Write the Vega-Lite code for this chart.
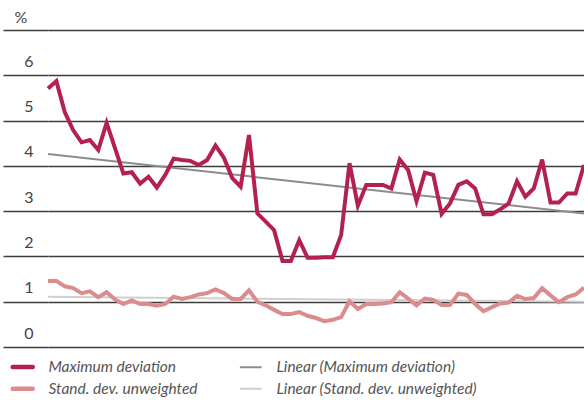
{
  "$schema": "https://vega.github.io/schema/vega-lite/v6.json",
  "autosize": "none",
  "width": 536,
  "height": 317,
  "padding": {"left": 48, "top": 30, "right": 0, "bottom": 53},
  "background": "white",
  "config": {
    "view": {"stroke": null},
    "font": "Lato",
    "legend": {
      "orient": "none",
      "legendX": -33,
      "legendY": 329,
      "columns": 2,
      "symbolType": "stroke",
      "symbolSize": 400,
      "labelFont": "Lato",
      "labelFontStyle": "italic",
      "labelFontSize": 15.5,
      "labelColor": "#555555",
      "labelOffset": 18,
      "rowPadding": 3,
      "columnPadding": 38,
      "labelLimit": 300
    }
  },
  "layer": [
    {
      "data": {"values": [
        {"series": "Linear (Maximum deviation)", "i": 0, "v": 4.26},
        {"series": "Linear (Maximum deviation)", "i": 64, "v": 2.95},
        {"series": "Linear (Stand. dev. unweighted)", "i": 0, "v": 1.11},
        {"series": "Linear (Stand. dev. unweighted)", "i": 64, "v": 1.0}
      ]},
      "mark": {"type": "line", "strokeWidth": 2},
      "encoding": {
        "x": {"field": "i", "type": "quantitative", "axis": null, "scale": {"domain": [0, 64], "nice": false, "zero": false}},
        "y": {"field": "v", "type": "quantitative"},
        "color": {"field": "series", "type": "nominal"}
      }
    },
    {
      "data": {"values": [
        {"series": "Maximum deviation", "i": 0, "v": 5.71},
        {"series": "Maximum deviation", "i": 1, "v": 5.87},
        {"series": "Maximum deviation", "i": 2, "v": 5.19},
        {"series": "Maximum deviation", "i": 3, "v": 4.79},
        {"series": "Maximum deviation", "i": 4, "v": 4.52},
        {"series": "Maximum deviation", "i": 5, "v": 4.57},
        {"series": "Maximum deviation", "i": 6, "v": 4.35},
        {"series": "Maximum deviation", "i": 7, "v": 4.95},
        {"series": "Maximum deviation", "i": 8, "v": 4.39},
        {"series": "Maximum deviation", "i": 9, "v": 3.83},
        {"series": "Maximum deviation", "i": 10, "v": 3.86},
        {"series": "Maximum deviation", "i": 11, "v": 3.61},
        {"series": "Maximum deviation", "i": 12, "v": 3.76},
        {"series": "Maximum deviation", "i": 13, "v": 3.52},
        {"series": "Maximum deviation", "i": 14, "v": 3.8},
        {"series": "Maximum deviation", "i": 15, "v": 4.16},
        {"series": "Maximum deviation", "i": 16, "v": 4.13},
        {"series": "Maximum deviation", "i": 17, "v": 4.11},
        {"series": "Maximum deviation", "i": 18, "v": 4.02},
        {"series": "Maximum deviation", "i": 19, "v": 4.13},
        {"series": "Maximum deviation", "i": 20, "v": 4.45},
        {"series": "Maximum deviation", "i": 21, "v": 4.18},
        {"series": "Maximum deviation", "i": 22, "v": 3.73},
        {"series": "Maximum deviation", "i": 23, "v": 3.54},
        {"series": "Maximum deviation", "i": 24, "v": 4.68},
        {"series": "Maximum deviation", "i": 25, "v": 2.95},
        {"series": "Maximum deviation", "i": 26, "v": 2.77},
        {"series": "Maximum deviation", "i": 27, "v": 2.58},
        {"series": "Maximum deviation", "i": 28, "v": 1.9},
        {"series": "Maximum deviation", "i": 29, "v": 1.9},
        {"series": "Maximum deviation", "i": 30, "v": 2.36},
        {"series": "Maximum deviation", "i": 31, "v": 1.97},
        {"series": "Maximum deviation", "i": 32, "v": 1.97},
        {"series": "Maximum deviation", "i": 33, "v": 1.98},
        {"series": "Maximum deviation", "i": 34, "v": 1.98},
        {"series": "Maximum deviation", "i": 35, "v": 2.47},
        {"series": "Maximum deviation", "i": 36, "v": 4.06},
        {"series": "Maximum deviation", "i": 37, "v": 3.12},
        {"series": "Maximum deviation", "i": 38, "v": 3.58},
        {"series": "Maximum deviation", "i": 39, "v": 3.58},
        {"series": "Maximum deviation", "i": 40, "v": 3.58},
        {"series": "Maximum deviation", "i": 41, "v": 3.5},
        {"series": "Maximum deviation", "i": 42, "v": 4.14},
        {"series": "Maximum deviation", "i": 43, "v": 3.91},
        {"series": "Maximum deviation", "i": 44, "v": 3.22},
        {"series": "Maximum deviation", "i": 45, "v": 3.85},
        {"series": "Maximum deviation", "i": 46, "v": 3.8},
        {"series": "Maximum deviation", "i": 47, "v": 2.94},
        {"series": "Maximum deviation", "i": 48, "v": 3.17},
        {"series": "Maximum deviation", "i": 49, "v": 3.58},
        {"series": "Maximum deviation", "i": 50, "v": 3.66},
        {"series": "Maximum deviation", "i": 51, "v": 3.5},
        {"series": "Maximum deviation", "i": 52, "v": 2.93},
        {"series": "Maximum deviation", "i": 53, "v": 2.93},
        {"series": "Maximum deviation", "i": 54, "v": 3.04},
        {"series": "Maximum deviation", "i": 55, "v": 3.17},
        {"series": "Maximum deviation", "i": 56, "v": 3.66},
        {"series": "Maximum deviation", "i": 57, "v": 3.32},
        {"series": "Maximum deviation", "i": 58, "v": 3.5},
        {"series": "Maximum deviation", "i": 59, "v": 4.14},
        {"series": "Maximum deviation", "i": 60, "v": 3.19},
        {"series": "Maximum deviation", "i": 61, "v": 3.19},
        {"series": "Maximum deviation", "i": 62, "v": 3.39},
        {"series": "Maximum deviation", "i": 63, "v": 3.39},
        {"series": "Maximum deviation", "i": 64, "v": 4.02},
        {"series": "Stand. dev. unweighted", "i": 0, "v": 1.46},
        {"series": "Stand. dev. unweighted", "i": 1, "v": 1.46},
        {"series": "Stand. dev. unweighted", "i": 2, "v": 1.34},
        {"series": "Stand. dev. unweighted", "i": 3, "v": 1.3},
        {"series": "Stand. dev. unweighted", "i": 4, "v": 1.19},
        {"series": "Stand. dev. unweighted", "i": 5, "v": 1.23},
        {"series": "Stand. dev. unweighted", "i": 6, "v": 1.1},
        {"series": "Stand. dev. unweighted", "i": 7, "v": 1.21},
        {"series": "Stand. dev. unweighted", "i": 8, "v": 1.05},
        {"series": "Stand. dev. unweighted", "i": 9, "v": 0.95},
        {"series": "Stand. dev. unweighted", "i": 10, "v": 1.03},
        {"series": "Stand. dev. unweighted", "i": 11, "v": 0.95},
        {"series": "Stand. dev. unweighted", "i": 12, "v": 0.95},
        {"series": "Stand. dev. unweighted", "i": 13, "v": 0.91},
        {"series": "Stand. dev. unweighted", "i": 14, "v": 0.95},
        {"series": "Stand. dev. unweighted", "i": 15, "v": 1.11},
        {"series": "Stand. dev. unweighted", "i": 16, "v": 1.06},
        {"series": "Stand. dev. unweighted", "i": 17, "v": 1.1},
        {"series": "Stand. dev. unweighted", "i": 18, "v": 1.16},
        {"series": "Stand. dev. unweighted", "i": 19, "v": 1.19},
        {"series": "Stand. dev. unweighted", "i": 20, "v": 1.27},
        {"series": "Stand. dev. unweighted", "i": 21, "v": 1.19},
        {"series": "Stand. dev. unweighted", "i": 22, "v": 1.06},
        {"series": "Stand. dev. unweighted", "i": 23, "v": 1.06},
        {"series": "Stand. dev. unweighted", "i": 24, "v": 1.25},
        {"series": "Stand. dev. unweighted", "i": 25, "v": 1.0},
        {"series": "Stand. dev. unweighted", "i": 26, "v": 0.92},
        {"series": "Stand. dev. unweighted", "i": 27, "v": 0.82},
        {"series": "Stand. dev. unweighted", "i": 28, "v": 0.73},
        {"series": "Stand. dev. unweighted", "i": 29, "v": 0.73},
        {"series": "Stand. dev. unweighted", "i": 30, "v": 0.77},
        {"series": "Stand. dev. unweighted", "i": 31, "v": 0.69},
        {"series": "Stand. dev. unweighted", "i": 32, "v": 0.64},
        {"series": "Stand. dev. unweighted", "i": 33, "v": 0.57},
        {"series": "Stand. dev. unweighted", "i": 34, "v": 0.6},
        {"series": "Stand. dev. unweighted", "i": 35, "v": 0.66},
        {"series": "Stand. dev. unweighted", "i": 36, "v": 1.01},
        {"series": "Stand. dev. unweighted", "i": 37, "v": 0.84},
        {"series": "Stand. dev. unweighted", "i": 38, "v": 0.95},
        {"series": "Stand. dev. unweighted", "i": 39, "v": 0.95},
        {"series": "Stand. dev. unweighted", "i": 40, "v": 0.96},
        {"series": "Stand. dev. unweighted", "i": 41, "v": 0.99},
        {"series": "Stand. dev. unweighted", "i": 42, "v": 1.21},
        {"series": "Stand. dev. unweighted", "i": 43, "v": 1.07},
        {"series": "Stand. dev. unweighted", "i": 44, "v": 0.92},
        {"series": "Stand. dev. unweighted", "i": 45, "v": 1.07},
        {"series": "Stand. dev. unweighted", "i": 46, "v": 1.04},
        {"series": "Stand. dev. unweighted", "i": 47, "v": 0.93},
        {"series": "Stand. dev. unweighted", "i": 48, "v": 0.93},
        {"series": "Stand. dev. unweighted", "i": 49, "v": 1.18},
        {"series": "Stand. dev. unweighted", "i": 50, "v": 1.15},
        {"series": "Stand. dev. unweighted", "i": 51, "v": 0.95},
        {"series": "Stand. dev. unweighted", "i": 52, "v": 0.79},
        {"series": "Stand. dev. unweighted", "i": 53, "v": 0.88},
        {"series": "Stand. dev. unweighted", "i": 54, "v": 0.96},
        {"series": "Stand. dev. unweighted", "i": 55, "v": 0.98},
        {"series": "Stand. dev. unweighted", "i": 56, "v": 1.13},
        {"series": "Stand. dev. unweighted", "i": 57, "v": 1.06},
        {"series": "Stand. dev. unweighted", "i": 58, "v": 1.08},
        {"series": "Stand. dev. unweighted", "i": 59, "v": 1.3},
        {"series": "Stand. dev. unweighted", "i": 60, "v": 1.14},
        {"series": "Stand. dev. unweighted", "i": 61, "v": 0.99},
        {"series": "Stand. dev. unweighted", "i": 62, "v": 1.1},
        {"series": "Stand. dev. unweighted", "i": 63, "v": 1.16},
        {"series": "Stand. dev. unweighted", "i": 64, "v": 1.31}
      ]},
      "mark": {"type": "line", "strokeWidth": 4},
      "encoding": {
        "x": {"field": "i", "type": "quantitative", "axis": null, "scale": {"domain": [0, 64], "nice": false, "zero": false}},
        "y": {
          "field": "v", "type": "quantitative",
          "scale": {"domain": [0, 7], "nice": false, "zero": true},
          "axis": {
            "values": [0, 0.5, 1, 1.5, 2, 2.5, 3, 3.5, 4, 4.5, 5, 5.5, 6, 6.5, 7],
            "domain": false,
            "grid": true,
            "gridColor": "#3c3c3c",
            "gridWidth": 1.3,
            "gridOpacity": 1,
            "ticks": true,
            "tickSize": 45,
            "tickWidth": 1.3,
            "tickColor": "#3c3c3c",
            "tickOpacity": {"condition": {"test": "datum.value % 1 === 0", "value": 1}, "value": 0},
            "labelExpr": "datum.value % 1 === 0 && datum.value < 7 ? datum.label : ''",
            "labelFont": "Lato",
            "labelFontSize": 16,
            "labelColor": "#444444",
            "labelAlign": "right",
            "labelBaseline": "middle",
            "labelPadding": -30,
            "labelOffset": -14,
            "title": "%",
            "titleAngle": 0,
            "titleX": -34,
            "titleY": -13,
            "titleAlign": "left",
            "titleBaseline": "middle",
            "titleFont": "Lato",
            "titleFontSize": 16,
            "titleFontWeight": "normal",
            "titleColor": "#444444"
          }
        },
        "color": {
          "field": "series", "type": "nominal",
          "scale": {
            "domain": ["Maximum deviation", "Stand. dev. unweighted", "Linear (Maximum deviation)", "Linear (Stand. dev. unweighted)"],
            "range": ["#B5214F", "#DB8C8E", "#8C8C8C", "#CFCFCF"]
          },
          "legend": {
            "title": null,
            "encode": {
              "symbols": {
                "update": {
                  "strokeWidth": {"signal": "test(/^Linear/, datum.value) ? 2 : 4.5"},
                  "strokeCap": {"value": "round"}
                }
              }
            }
          }
        }
      }
    }
  ]
}
